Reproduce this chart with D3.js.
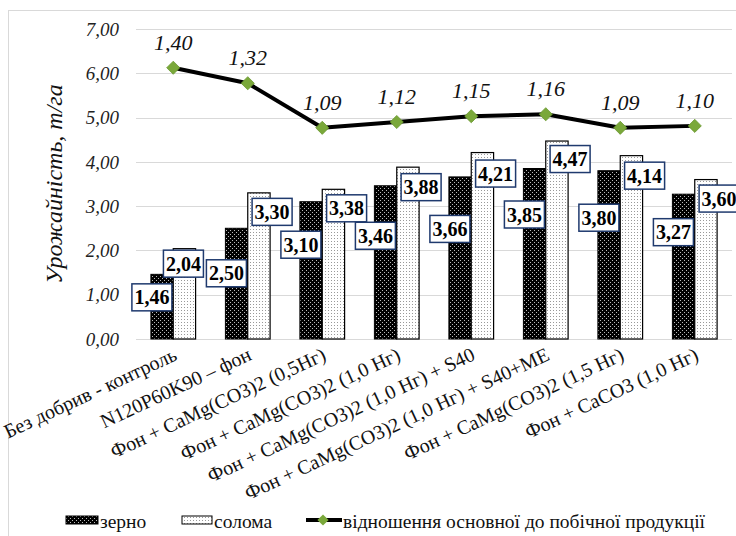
<!DOCTYPE html>
<html>
<head>
<meta charset="utf-8">
<script src="https://cdn.jsdelivr.net/npm/d3@7"></script>
</head>
<body style="margin:0">
<svg id="chart" width="736" height="536"></svg>
<script>
// Treatments
const categories = [
  "Без добрив - контроль",
  "N120P60K90 – фон",
  "Фон + CaMg(CO3)2 (0,5Нг)",
  "Фон + CaMg(CO3)2 (1,0 Нг)",
  "Фон + CaMg(CO3)2 (1,0 Нг) + S40",
  "Фон + CaMg(CO3)2 (1,0 Нг) + S40+МЕ",
  "Фон + CaMg(CO3)2 (1,5 Нг)",
  "Фон + CaCO3 (1,0 Нг)"
];
// Yield, t/ha
const grain = [1.46, 2.50, 3.10, 3.46, 3.66, 3.85, 3.80, 3.27];
const straw = [2.04, 3.30, 3.38, 3.88, 4.21, 4.47, 4.14, 3.60];
// Grain to straw ratio (secondary axis)
const ratio = [1.40, 1.32, 1.09, 1.12, 1.15, 1.16, 1.09, 1.10];
const yTicks = [0, 1, 2, 3, 4, 5, 6, 7];
const seriesNames = ["зерно", "солома", "відношення основної до побічної продукції"];

// hand-placed data label offsets (px below the bar top)
const grainLabelDy = [23, 45, 43, 50, 52, 46, 47, 38];
const strawLabelDy = [15, 19, 19, 20, 21, 18, 20, 19];

const FONT = '"Liberation Serif"';
const svg = d3.select("#chart");
const plot = { left: 136, right: 732, top: 29, bottom: 339 };

const x = d3.scaleBand().domain(categories).range([plot.left, plot.right]).padding(0);
const y = d3.scaleLinear().domain([0, 7]).range([plot.bottom, plot.top]);
const y2 = d3.scaleLinear().domain([0, 1.6]).range([plot.bottom, plot.top]);
const barW = x.bandwidth() * 0.3;
const cx = c => x(c) + x.bandwidth() / 2;

// fill patterns
const defs = svg.append("defs");
const pg = defs.append("pattern").attr("id", "pGrain").attr("width", 4).attr("height", 4)
  .attr("patternUnits", "userSpaceOnUse");
pg.append("rect").attr("width", 4).attr("height", 4).attr("fill", "#000");
pg.append("rect").attr("x", 0).attr("y", 0).attr("width", 1).attr("height", 1).attr("fill", "#bbb");
pg.append("rect").attr("x", 2).attr("y", 2).attr("width", 1).attr("height", 1).attr("fill", "#bbb");
const ps = defs.append("pattern").attr("id", "pStraw").attr("width", 3).attr("height", 3)
  .attr("patternUnits", "userSpaceOnUse");
ps.append("rect").attr("width", 3).attr("height", 3).attr("fill", "#fff");
ps.append("rect").attr("x", 1).attr("y", 1).attr("width", 1).attr("height", 1).attr("fill", "#999");

// chart frame
svg.append("rect").attr("x", 8.5).attr("y", 10.5).attr("width", 740).attr("height", 540)
  .attr("fill", "none").attr("stroke", "#d9d9d9").attr("stroke-width", 1);

// gridlines
svg.append("g").selectAll("line").data(yTicks).join("line")
  .attr("x1", plot.left).attr("x2", plot.right)
  .attr("y1", d => Math.round(y(d)) + 0.5).attr("y2", d => Math.round(y(d)) + 0.5)
  .attr("stroke", "#d9d9d9").attr("stroke-width", 1);

// y axis tick labels
const fmt = v => v.toFixed(2).replace(".", ",");
svg.append("g").selectAll("text").data(yTicks).join("text")
  .attr("font-family", FONT)
  .attr("x", 119).attr("y", d => y(d)).attr("dy", "0.35em")
  .attr("text-anchor", "end").attr("font-style", "italic").attr("font-size", 19)
  .attr("fill", "#222").text(fmt);

// y axis title
svg.append("text").attr("font-family", FONT)
  .attr("transform", `translate(62,${(plot.top + plot.bottom) / 2}) rotate(-90)`)
  .attr("text-anchor", "middle").attr("font-style", "italic").attr("font-size", 24)
  .attr("fill", "#111").text("Урожайність, т/га");

// bars
const bars = svg.append("g");
bars.selectAll("rect.g").data(categories).join("rect").attr("class", "g")
  .attr("x", c => cx(c) - barW).attr("width", barW)
  .attr("y", (c, i) => y(grain[i])).attr("height", (c, i) => y(0) - y(grain[i]))
  .attr("fill", "url(#pGrain)").attr("stroke", "#000").attr("stroke-width", 1);
bars.selectAll("rect.s").data(categories).join("rect").attr("class", "s")
  .attr("x", c => cx(c)).attr("width", barW)
  .attr("y", (c, i) => y(straw[i])).attr("height", (c, i) => y(0) - y(straw[i]))
  .attr("fill", "url(#pStraw)").attr("stroke", "#000").attr("stroke-width", 1.2);

// ratio line
const line = d3.line().x((d, i) => cx(categories[i])).y(d => y2(d));
svg.append("path").datum(ratio).attr("d", line)
  .attr("fill", "none").attr("stroke", "#000").attr("stroke-width", 4).attr("stroke-linejoin", "round");
const diamond = d3.symbol().type(d3.symbolDiamond2).size(110);
svg.append("g").selectAll("path").data(ratio).join("path")
  .attr("transform", (d, i) => `translate(${cx(categories[i])},${y2(d)})`)
  .attr("d", diamond).attr("fill", "#7aa83a").attr("stroke", "#6a9830").attr("stroke-width", 0.8);
svg.append("g").selectAll("text").data(ratio).join("text")
  .attr("font-family", FONT)
  .attr("x", (d, i) => cx(categories[i])).attr("y", d => y2(d) - 18)
  .attr("text-anchor", "middle").attr("font-style", "italic").attr("font-size", 22)
  .attr("fill", "#111").text(fmt);

// boxed value labels
function boxLabel(g, px, py, value) {
  g.append("rect").attr("x", px - 20).attr("y", py - 13.5)
    .attr("width", 40).attr("height", 27)
    .attr("fill", "#fff").attr("stroke", "#1f3a6e").attr("stroke-width", 1.5);
  g.append("text").attr("font-family", FONT)
    .attr("x", px).attr("y", py).attr("dy", "0.35em")
    .attr("text-anchor", "middle").attr("font-weight", "bold").attr("font-size", 20)
    .attr("fill", "#000").text(fmt(value));
}
categories.forEach((c, i) => {
  boxLabel(svg.append("g"), cx(c) - barW + 1, y(grain[i]) + grainLabelDy[i], grain[i]);
  const sx = i === 0 ? cx(c) + barW / 2 - 1 : cx(c) + barW + 2;
  boxLabel(svg.append("g"), sx, y(straw[i]) + strawLabelDy[i], straw[i]);
});

// category labels
svg.append("g").selectAll("text").data(categories).join("text")
  .attr("font-family", FONT)
  .attr("transform", c => `translate(${cx(c) + 2},${plot.bottom + 14}) rotate(-25)`)
  .attr("text-anchor", "end").attr("dy", "0.35em").attr("font-size", 20)
  .attr("fill", "#111").text(c => c);

// legend
const leg = svg.append("g");
const legText = (xp, s) => leg.append("text").attr("font-family", FONT).attr("font-size", 19.5)
  .attr("fill", "#111").attr("x", xp).attr("y", 528).text(s);
leg.append("rect").attr("x", 66).attr("y", 516).attr("width", 32).attr("height", 8)
  .attr("fill", "url(#pGrain)").attr("stroke", "#000");
legText(100, seriesNames[0]);
leg.append("rect").attr("x", 182).attr("y", 516).attr("width", 30).attr("height", 8)
  .attr("fill", "url(#pStraw)").attr("stroke", "#000");
legText(214, seriesNames[1]);
leg.append("line").attr("x1", 306).attr("x2", 342).attr("y1", 520).attr("y2", 520)
  .attr("stroke", "#000").attr("stroke-width", 4);
leg.append("path").attr("transform", "translate(323,520)")
  .attr("d", d3.symbol().type(d3.symbolDiamond2).size(80)).attr("fill", "#7aa83a");
legText(343, seriesNames[2]);
</script>
</body>
</html>
